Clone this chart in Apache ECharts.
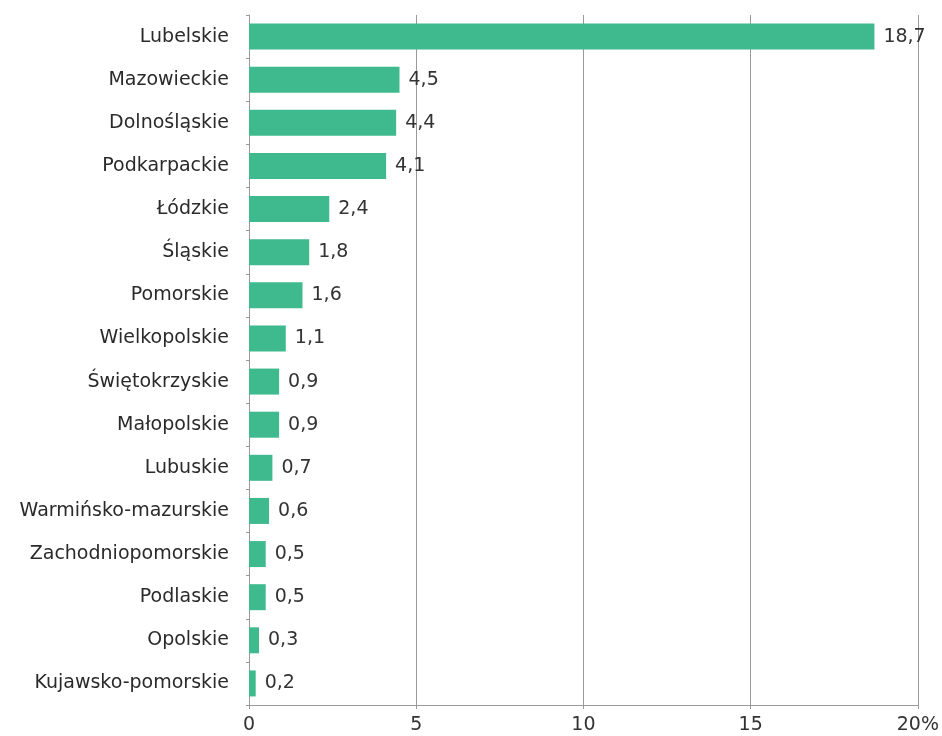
<!DOCTYPE html>
<html>
<head>
<meta charset="utf-8">
<style>
  html, body { margin: 0; padding: 0; background: #ffffff; }
  #chart { width: 942px; height: 736px; }
</style>
<script src="https://cdn.jsdelivr.net/npm/echarts@6/dist/echarts.min.js"></script>
</head>
<body>
<div id="chart"></div>
<script>
// Regions, listed top to bottom
const regions = [
  'Lubelskie', 'Mazowieckie', 'Dolnośląskie', 'Podkarpackie', 'Łódzkie',
  'Śląskie', 'Pomorskie', 'Wielkopolskie', 'Świętokrzyskie', 'Małopolskie',
  'Lubuskie', 'Warmińsko-mazurskie', 'Zachodniopomorskie', 'Podlaskie',
  'Opolskie', 'Kujawsko-pomorskie'
];
// Share in percent
const shares = [18.7, 4.5, 4.4, 4.1, 2.4, 1.8, 1.6, 1.1, 0.9, 0.9, 0.7, 0.6, 0.5, 0.5, 0.3, 0.2];
// Value axis tick labels
const tickLabels = { 0: '0', 5: '5', 10: '10', 15: '15', 20: '20%' };

const fontFamily = '"DejaVu Sans", Verdana, sans-serif';
const gridGray = '#9a9a9a';

const chart = echarts.init(document.getElementById('chart'), null, { renderer: 'canvas' });
chart.setOption({
  animation: false,
  backgroundColor: '#ffffff',
  grid: { left: 249, right: 23, top: 15, bottom: 31, containLabel: false },
  xAxis: {
    type: 'value',
    min: 0, max: 20, interval: 5,
    axisLine: { show: true, lineStyle: { color: gridGray, width: 1 } },
    axisTick: { show: true, length: 4, lineStyle: { color: gridGray } },
    splitLine: { show: true, lineStyle: { color: gridGray, width: 1 } },
    axisLabel: {
      color: '#333333', fontSize: 19, fontFamily: fontFamily, margin: 11,
      formatter: v => tickLabels[v] !== undefined ? tickLabels[v] : String(v)
    }
  },
  yAxis: {
    type: 'category',
    inverse: true,
    data: regions,
    axisLine: { show: true, lineStyle: { color: gridGray, width: 1 } },
    axisTick: { show: true, length: 3, lineStyle: { color: gridGray } },
    axisLabel: { color: '#2a2a2a', fontSize: 19, fontFamily: fontFamily, margin: 20 }
  },
  series: [{
    type: 'bar',
    data: shares,
    barWidth: 26,
    itemStyle: { color: '#3fba8e' },
    label: {
      show: true,
      position: 'right',
      distance: 9,
      color: '#333333',
      fontSize: 19,
      fontFamily: fontFamily,
      formatter: p => p.value.toFixed(1).replace('.', ',')
    }
  }]
});
</script>
</body>
</html>
